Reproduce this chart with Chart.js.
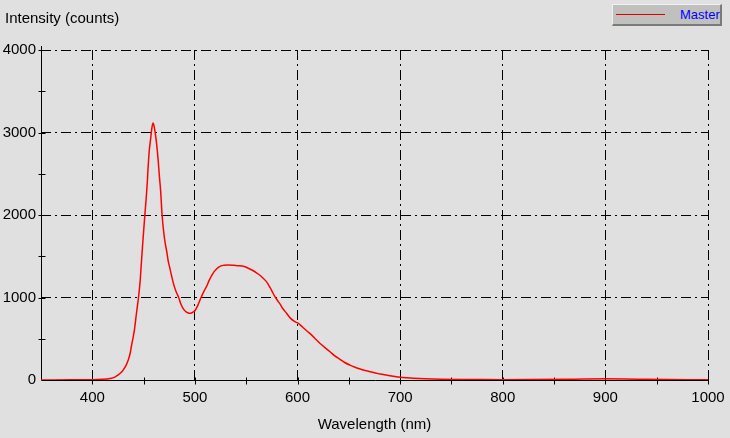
<!DOCTYPE html>
<html>
<head>
<meta charset="utf-8">
<script src="https://cdn.jsdelivr.net/npm/chart.js@4"></script>
<style>
  html, body { margin: 0; padding: 0; background: #e0e0e0; }
  #wrap { position: relative; width: 730px; height: 438px; overflow: hidden; }
  #title { position: absolute; left: 5px; top: 9px; font: 15px "Liberation Sans", Arial, sans-serif; line-height: 17px; color: #000; }
  #legend { position: absolute; left: 612px; top: 4px; width: 107px; height: 19px; background: #c0c0bf;
            border-top: 1px solid #f0f0f0; border-left: 1px solid #f0f0f0; border-right: 2px solid #7a7a7a; border-bottom: 2px solid #7a7a7a; }
  #legend .ln { position: absolute; left: 3px; top: 9px; width: 49px; height: 1px; background: #e00000; }
  #legend .tx { position: absolute; left: 67px; top: 2px; font: 13px "Liberation Sans", Arial, sans-serif; line-height: 15px; color: #0000ff; }
</style>
</head>
<body>
<div id="wrap">
  <canvas id="c" width="730" height="438"></canvas>
  <div id="title">Intensity (counts)</div>
  <div id="legend"><div class="ln"></div><div class="tx">Master</div></div>
</div>
<script>
const seriesName = "Master";
const xAxisTitle = "Wavelength (nm)";
const wavelengths = [350,380,400,410,417,422,425,428,430,433,435,437,438,440,441,443,445,446.5,448,449.5,451.2,452.5,453.6,454.4,455.5,456.8,458,459.2,460,461,462.5,464,465.3,466.6,468,469.5,471,472.5,474,475.5,477.5,479.5,482,484.2,486,488.4,491,493,495,497,500,503,506,509,511.2,514,517.6,521,524,528,533,538,543,548,552,556,560,563,566,569.5,573,576,578.5,581,583,586,589.5,593,597,600.8,605,610,613.8,618,622,627,631.7,636,641.4,646,651,656,661,666,670.7,676,680.5,686,690,695,700,706,713,725,740,760,780,800,830,860,880,900,920,940,960,980,1000];
const intensity = [0,2,3,8,18,35,60,90,120,180,242,330,403,530,605,806,1000,1180,1455,1720,2000,2200,2400,2580,2780,2920,3050,3115,3090,3020,2880,2690,2480,2290,2000,1800,1660,1560,1440,1360,1250,1150,1060,1000,930,869,830,815,808,815,840,910,1000,1080,1131,1210,1293,1345,1375,1390,1395,1390,1385,1375,1355,1330,1300,1273,1240,1195,1125,1055,1000,955,919,860,806,750,710,686,640,585,544,490,443,390,342,295,250,212,181,155,133,115,100,85,72,60,52,42,33,26,20,14,10,7,5,4,5,8,12,14,12,8,5,3,2];
const xMin = 350, xMax = 1000, xStep = 50, xLabelEvery = 100;
const yMin = 0, yMax = 4000, yStep = 500, yLabelEvery = 1000;

const points = wavelengths.map((w, i) => ({x: w, y: intensity[i]}));
const FONT = '"Liberation Sans", Arial, sans-serif';

const axesPlugin = {
  id: 'axesCross',
  beforeDatasetsDraw(chart) {
    const {ctx, chartArea: a, scales: {x, y}} = chart;
    ctx.save();
    ctx.strokeStyle = '#000';
    ctx.lineWidth = 1;
    ctx.setLineDash([]);
    ctx.beginPath();
    const by = Math.round(a.bottom) + 0.5, lx = Math.round(a.left) + 0.5;
    ctx.moveTo(lx, Math.round(a.top) - 4); ctx.lineTo(lx, by);
    ctx.lineTo(Math.round(a.right) + 1, by);
    x.ticks.forEach(t => {
      if (t.value === xMin) return;
      const px = Math.round(x.getPixelForValue(t.value)) + 0.5;
      ctx.moveTo(px, by - 3); ctx.lineTo(px, by + 4);
    });
    y.ticks.forEach(t => {
      if (t.value === yMin) return;
      const py = Math.round(y.getPixelForValue(t.value)) + 0.5;
      ctx.moveTo(lx - 3, py); ctx.lineTo(lx + 4, py);
    });
    ctx.stroke();
    ctx.restore();
  }
};

new Chart(document.getElementById('c'), {
  type: 'line',
  data: { datasets: [{ label: seriesName, data: points, borderColor: '#ff0000', borderWidth: 1.5,
    pointRadius: 0, cubicInterpolationMode: 'monotone', fill: false }] },
  options: {
    responsive: false, animation: false,
    layout: { padding: { left: 0, right: 22, top: 50, bottom: 0 } },
    plugins: { legend: { display: false }, tooltip: { enabled: false } },
    scales: {
      x: {
        type: 'linear', min: xMin, max: xMax,
        afterFit(s) { s.height = 58; s.paddingLeft = 0; s.paddingRight = 0; },
        ticks: { stepSize: xStep, autoSkip: false, maxRotation: 0, color: '#000', padding: 9,
          font: { family: FONT, size: 15 },
          callback: v => (v % xLabelEvery === 0 ? String(v) : '') },
        grid: { drawTicks: false, lineWidth: 1,
          color: c => (c.tick && c.tick.value % xLabelEvery === 0 && c.tick.value !== xMin) ? '#000' : 'rgba(0,0,0,0)' },
        border: { display: false, dash: [10, 4, 2, 4] },
        title: { display: true, text: xAxisTitle, color: '#000', font: { family: FONT, size: 15 }, padding: { top: 4, bottom: 4 } }
      },
      y: {
        type: 'linear', min: yMin, max: yMax,
        afterFit(s) { s.width = 41; s.paddingTop = 0; s.paddingBottom = 0; },
        ticks: { stepSize: yStep, autoSkip: false, color: '#000', padding: 5,
          font: { family: FONT, size: 15 },
          callback: v => (v % yLabelEvery === 0 ? String(v) : '') },
        grid: { drawTicks: false, lineWidth: 1,
          color: c => (c.tick && c.tick.value % yLabelEvery === 0 && c.tick.value !== yMin) ? '#000' : 'rgba(0,0,0,0)' },
        border: { display: false, dash: [10, 4, 2, 4] }
      }
    }
  },
  plugins: [axesPlugin]
});
</script>
</body>
</html>
